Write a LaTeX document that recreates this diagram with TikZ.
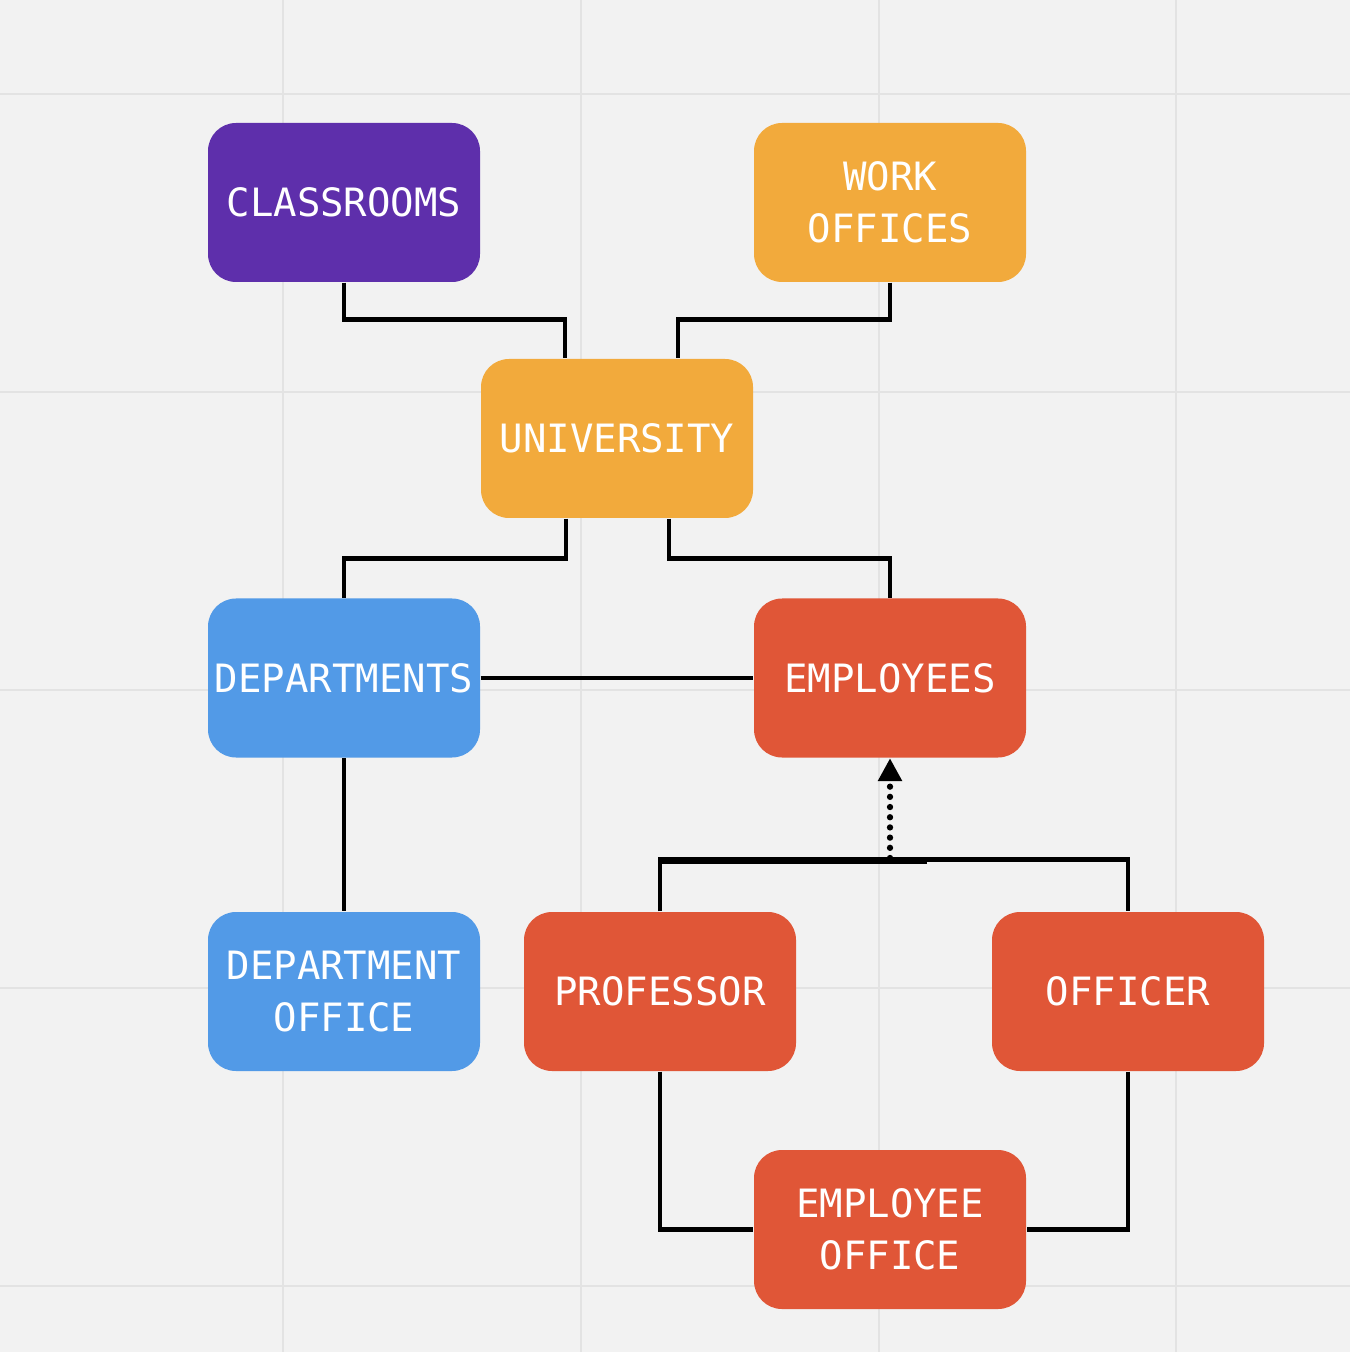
\documentclass[tikz,border=0pt]{standalone}
\usepackage{fontspec}
\setmonofont{DejaVu Sans Mono}
\usetikzlibrary{arrows.meta}
\definecolor{bgcol}{HTML}{F2F2F2}
\definecolor{gridcol}{HTML}{E3E3E3}
\definecolor{purplebox}{HTML}{5E2FAB}
\definecolor{orangebox}{HTML}{F2AA3C}
\definecolor{bluebox}{HTML}{529AE7}
\definecolor{redbox}{HTML}{E05637}
\tikzset{
	entity/.style={rounded corners=0.28cm, minimum width=2.72cm, minimum height=1.59cm, inner sep=0pt,
		text=white, align=center, font=\ttfamily\fontsize{11.1}{14.8}\selectfont},
	link/.style={line width=1.4pt},
	dotlink/.style={line width=1.8pt, dash pattern=on 0pt off 2.9pt, line cap=round, -{Triangle[length=6.5pt,width=6.5pt]}}
}
\begin{document}
\begin{tikzpicture}
		\fill[bgcol] (0,0) rectangle (13.5,-13.52);
		\useasboundingbox (0,0) rectangle (13.5,-13.52);
		\foreach \x in {2.83,5.81,8.79,11.76} \draw[gridcol, line width=0.6pt] (\x,0) -- (\x,-13.52);
		\foreach \y in {0.94,3.92,6.90,9.88,12.86} \draw[gridcol, line width=0.6pt] (0,-\y) -- (13.5,-\y);
		% boxes
		\node[entity, fill=purplebox] (classrooms) at (3.44,-2.025) {CLASSROOMS};
		\node[entity, fill=orangebox] (workoffices) at (8.90,-2.025) {WORK\\OFFICES};
		\node[entity, fill=orangebox] (university) at (6.17,-4.385) {UNIVERSITY};
		\node[entity, fill=bluebox] (departments) at (3.44,-6.78) {DEPARTMENTS};
		\node[entity, fill=redbox] (employees) at (8.90,-6.78) {EMPLOYEES};
		\node[entity, fill=bluebox] (deptoffice) at (3.44,-9.915) {DEPARTMENT\\OFFICE};
		\node[entity, fill=redbox] (professor) at (6.60,-9.915) {PROFESSOR};
		\node[entity, fill=redbox] (officer) at (11.28,-9.915) {OFFICER};
		\node[entity, fill=redbox] (empoffice) at (8.90,-12.295) {EMPLOYEE\\OFFICE};
		% connectors
		\draw[link] (classrooms.south) |- ([xshift=-0.52cm,yshift=0.39cm]university.north) -- ([xshift=-0.52cm]university.north);
		\draw[link] (workoffices.south) |- ([xshift=0.61cm,yshift=0.39cm]university.north) -- ([xshift=0.61cm]university.north);
		\draw[link] ([xshift=-0.51cm]university.south) -- ++(0,-0.4) -| (departments.north);
		\draw[link] ([xshift=0.52cm]university.south) -- ++(0,-0.4) -| (employees.north);
		\draw[link] (departments.east) -- (employees.west);
		\draw[link] (departments.south) -- (deptoffice.north);
		\draw[link] (professor.north) -- ++(0,0.52) -| (officer.north);
		\draw[link] ([yshift=0.5cm]professor.north) -- ++(2.67,0);
		\coordinate (joint) at (8.90,-8.58);
		\draw[dotlink] (joint) -- (employees.south);
		\draw[link] (professor.south) |- (empoffice.west);
		\draw[link] (officer.south) |- (empoffice.east);
	\end{tikzpicture}
\end{document}
